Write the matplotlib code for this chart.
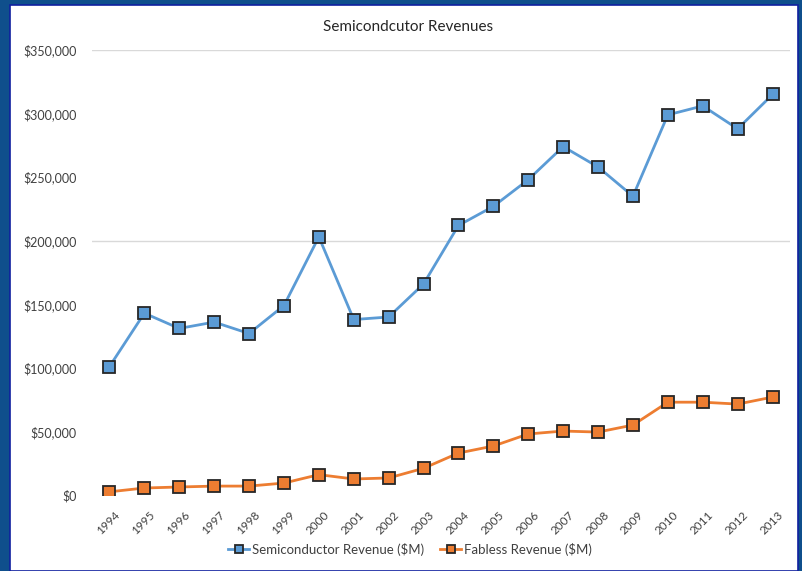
import matplotlib.pyplot as plt
from matplotlib.patches import Rectangle
from matplotlib.ticker import FuncFormatter
from matplotlib.transforms import ScaledTranslation

years = [str(y) for y in range(1994, 2014)]
semi_revenue = [101000, 143000, 131000, 136000, 127000, 149000, 203000, 138000, 140000, 166000,
                212000, 227000, 248000, 274000, 258000, 235000, 299000, 306000, 288000, 315000]
fabless_revenue = [2500, 5500, 6300, 7000, 7000, 9400, 16000, 12600, 13400, 21000,
                   33000, 38500, 48000, 50300, 49500, 55000, 73000, 73000, 71500, 77000]
y_ticks = [0, 50000, 100000, 150000, 200000, 250000, 300000, 350000]
visible_grid = [200000, 350000]

plt.rcParams["font.family"] = ["Lato", "DejaVu Sans"]

fig = plt.figure(figsize=(8.02, 5.71), dpi=100, facecolor="#0f4f8c")
# white chart area on the blue slide background
fig.patches.append(Rectangle((10 / 802, 0), 788 / 802, 566 / 571, transform=fig.transFigure,
                             facecolor="white", edgecolor="#1020a0", linewidth=1.2, zorder=-1))

ax = fig.add_axes([92 / 802, 1 - 495 / 571, 698 / 802, 445 / 571])
ax.set_facecolor("none")
ax.set_zorder(2)

x = range(len(years))
ax.plot(x, semi_revenue, color="#5b9bd5", lw=2, marker="s", ms=8.5,
        mfc="#5b9bd5", mec="#262626", mew=1.3, label="Semiconductor Revenue ($M)", zorder=3)
ax.plot(x, fabless_revenue, color="#ed7d31", lw=2, marker="s", ms=8.5,
        mfc="#ed7d31", mec="#262626", mew=1.3, label="Fabless Revenue ($M)", zorder=3)

for g in visible_grid:
    ax.axhline(g, color="#d9d9d9", lw=1, zorder=1)

ax.set_xlim(-0.5, len(years) - 0.5)
ax.set_ylim(0, 350000)
ax.set_yticks(y_ticks)
ax.yaxis.set_major_formatter(FuncFormatter(lambda v, p: f"${v:,.0f}"))
ax.set_xticks(list(x))
ax.set_xticklabels(years, rotation=45, ha="right", rotation_mode="anchor")
ax.tick_params(axis="y", length=0, pad=11, labelsize=9, labelcolor="#404040")
ax.tick_params(axis="x", length=0, pad=10, labelsize=8.5, labelcolor="#404040")
shift = ScaledTranslation(5 / 100, 0, fig.dpi_scale_trans)
for lbl in ax.get_xticklabels():
    lbl.set_transform(lbl.get_transform() + shift)
for s in ax.spines.values():
    s.set_visible(False)

fig.text(408 / 802, 1 - 27 / 571, "Semicondcutor Revenues", ha="center", va="center",
         fontsize=11, color="#262626")

fig.legend(loc="center", bbox_to_anchor=(410 / 802, 1 - 549 / 571), ncol=2, frameon=False,
           fontsize=9.5, labelcolor="#404040", handlelength=1.6, columnspacing=1.2,
           handletextpad=0.2, markerscale=0.75)

fig.savefig("out.png", dpi=100, facecolor=fig.get_facecolor())
